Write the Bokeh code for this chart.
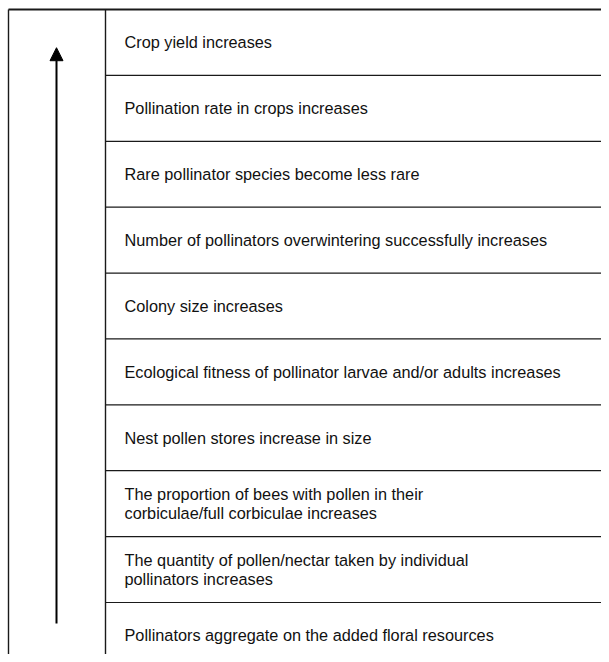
from bokeh.plotting import figure
from bokeh.models import Range1d, Arrow, NormalHead, ColumnDataSource
from bokeh.core.properties import value
from bokeh.embed import file_html
from bokeh.resources import INLINE

# Steps, from bottom (first) to top (last)
steps = [
    "Pollinators aggregate on the added floral resources",
    "The quantity of pollen/nectar taken by individual\npollinators increases",
    "The proportion of bees with pollen in their\ncorbiculae/full corbiculae increases",
    "Nest pollen stores increase in size",
    "Ecological fitness of pollinator larvae and/or adults increases",
    "Colony size increases",
    "Number of pollinators overwintering successfully increases",
    "Rare pollinator species become less rare",
    "Pollination rate in crops increases",
    "Crop yield increases",
]

n = len(steps)
W, H = 601, 654
px_per_row = 593 / 9.0
top_screen = 9  # top border, from figure top

y_top = n + top_screen / px_per_row
y_bot = y_top - H / px_per_row

p = figure(width=W, height=H, output_backend="svg", toolbar_location=None,
           x_range=Range1d(0, W), y_range=Range1d(y_bot, y_top),
           min_border=0, min_border_left=0, min_border_right=0,
           min_border_top=0, min_border_bottom=0)
p.axis.visible = False
p.grid.visible = False
p.outline_line_color = None
p.background_fill_color = "white"
p.border_fill_color = "white"

left_x = 8
div_x = 105
text_x = 124
arrow_x = 56
line_col = "#1a1a1a"

# horizontal row boundaries (between steps) and top border
levels = list(range(1, n + 1))
p.segment(x0=[div_x] * (n - 1) + [left_x], x1=[W] * n,
          y0=levels, y1=levels, line_color=line_col,
          line_width=[1.2] * (n - 1) + [1.8])

# vertical lines: outer left border and column divider
p.segment(x0=[left_x, div_x], x1=[left_x, div_x],
          y0=[n, n], y1=[y_bot - 1, y_bot - 1],
          line_color=line_col, line_width=1.4)

# step labels
src = ColumnDataSource(dict(x=[text_x] * n, y=[i + 0.5 for i in range(n)], t=steps))
p.text(x="x", y="y", text="t", source=src, text_font=value("Liberation Sans"),
       text_font_size="16.3px", text_color="#111111",
       text_baseline="middle", text_align="left", text_line_height=1.09)

# upward arrow
p.add_layout(Arrow(x_start=arrow_x, y_start=0.68, x_end=arrow_x, y_end=n - 0.58,
                   line_color="black", line_width=2,
                   end=NormalHead(size=13, fill_color="black", line_color="black", line_width=1)))

open("out.html", "w").write(file_html(p, INLINE))
